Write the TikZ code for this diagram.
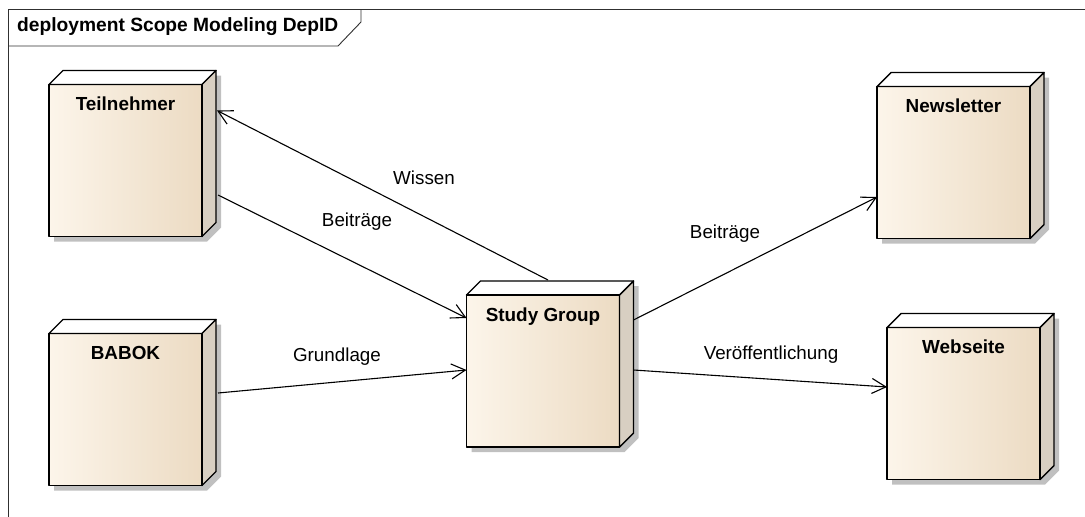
\documentclass[tikz,border=0pt]{standalone}
\usepackage{fontspec}
\setmainfont{Liberation Sans}
\usetikzlibrary{arrows.meta,backgrounds}

\definecolor{facel}{HTML}{FCF5EA}
\definecolor{facem}{HTML}{F9EFE0}
\definecolor{facer}{HTML}{ECDBC3}
\definecolor{sidecol}{HTML}{D8CFC2}
\definecolor{shadowcol}{HTML}{C0C0C0}
\definecolor{framecol}{HTML}{303030}

% draws the top face, side face and drop shadow of a deployment node
\newcommand\boxdeco[1]{%
  \begin{scope}[on background layer]
    \fill[shadowcol]
      ([shift={(5,5)}]#1.south west) -- ([shift={(5,5)}]#1.north west)
      -- ([shift={(19,-9)}]#1.north west) -- ([shift={(19,-9)}]#1.north east)
      -- ([shift={(19,-9)}]#1.south east) -- ([shift={(5,5)}]#1.south east) -- cycle;
  \end{scope}
  \draw[boxline, fill=white] (#1.north west) -- ++(14,-14)
    -- ([shift={(14,-14)}]#1.north east) -- (#1.north east) -- cycle;
  \draw[boxline, fill=sidecol] (#1.north east) -- ++(14,-14)
    -- ([shift={(14,-14)}]#1.south east) -- (#1.south east) -- cycle;
  \draw[boxline] (#1.south west) rectangle (#1.north east);
}

\begin{document}
\begin{tikzpicture}[x=1pt,y=-1pt,
  boxline/.style={line width=1.4pt, line join=round},
  depbox/.style={rectangle, inner sep=0pt, outer sep=0pt,
    minimum width=153pt, minimum height=152pt,
    left color=facel, middle color=facem, right color=facer},
  boxname/.style={font=\fontsize{18.9}{22}\selectfont\bfseries, anchor=north, yshift=-9pt},
  conn/.style={line width=1.1pt, -{Straight Barb[length=14pt,width=15pt,line width=1.1pt]}},
  connlabel/.style={font=\fontsize{18.8}{22}\selectfont, inner sep=0pt},
  framestyle/.style={line width=0.9pt, draw=framecol}]

\useasboundingbox (0,0) rectangle (1085,517);

% diagram frame with its name tab
\draw[framestyle] (8,517) -- (8,9) -- (1085,9);
\draw[framestyle] (8,46) -- (338,46) -- (361,22) -- (361,9);
\node[anchor=west, inner sep=0pt, font=\fontsize{19.2}{22}\selectfont\bfseries]
  (title) at (17,27) {deployment Scope Modeling DepID};

% deployment nodes
\node[depbox, label={[boxname]north:Teilnehmer}] (tn) at (125.5,160.5) {};
\node[depbox, label={[boxname]north:BABOK}] (bk) at (125.5,409.5) {};
\node[depbox, label={[boxname]north:Study Group}] (sg) at (543,371) {};
\node[depbox, label={[boxname]north:Newsletter}] (nl) at (953.5,162.5) {};
\node[depbox, label={[boxname]north:Webseite}] (ws) at (963.5,403.5) {};

\boxdeco{tn}
\boxdeco{bk}
\boxdeco{sg}
\boxdeco{nl}
\boxdeco{ws}

% connectors
\draw[conn] ([shift={(5,-15)}]sg.north) -- ([shift={(15,26)}]tn.north east);
\draw[conn] ([shift={(16,34.5)}]tn.east) -- ([shift={(0,-53)}]sg.west);
\draw[conn] ([shift={(16,-16.5)}]bk.east) -- ([shift={(0,-1)}]sg.west);
\draw[conn] ([shift={(14,-51)}]sg.east) -- ([shift={(0,34.5)}]nl.west);
\draw[conn] ([shift={(14,-1)}]sg.east) -- ([shift={(0,-16.5)}]ws.west);

% connector labels
\node[connlabel] (lwissen) at (424,178) {Wissen};
\node[connlabel] (lbeitr1) at (357,222) {Beiträge};
\node[connlabel] (lgrund) at (337,357) {Grundlage};
\node[connlabel] (lbeitr2) at (725,234) {Beiträge};
\node[connlabel] (lveroef) at (771,355) {Veröffentlichung};
\end{tikzpicture}
\end{document}
